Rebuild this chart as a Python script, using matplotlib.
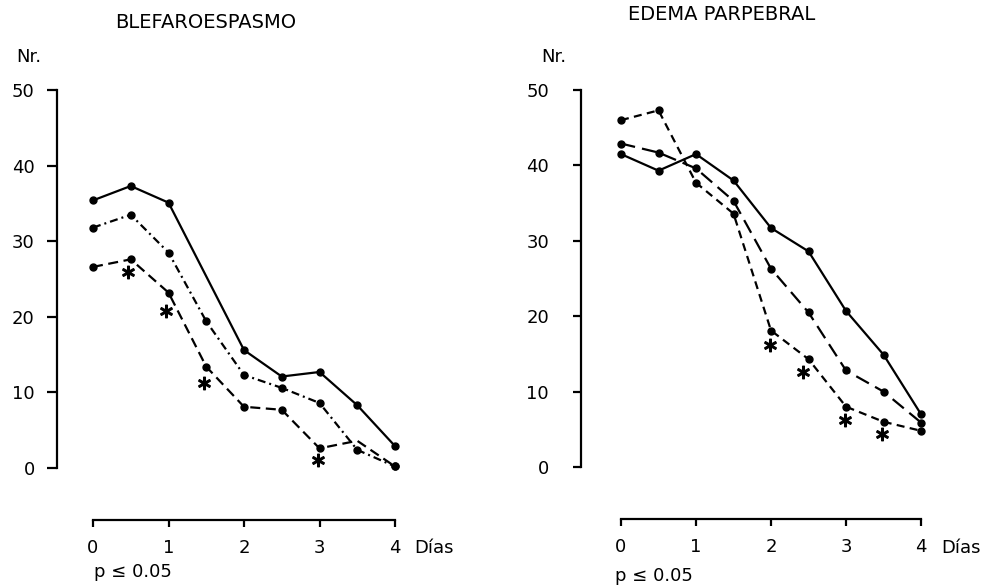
import matplotlib
matplotlib.use("Agg")
import matplotlib.pyplot as plt

# ---------------- data ----------------
days = [0, 0.5, 1, 1.5, 2, 2.5, 3, 3.5, 4]
day_ticks = [0, 1, 2, 3, 4]
y_ticks = [0, 10, 20, 30, 40, 50]

# BLEFAROESPASMO
bl_solid_x = [0, 0.5, 1, 2, 2.5, 3, 3.5, 4]
bl_solid = [35.4, 37.3, 35.1, 15.6, 12.1, 12.7, 8.3, 2.9]
bl_dashdot = [31.8, 33.5, 28.5, 19.4, 12.3, 10.6, 8.6, 2.4, 0.2]
bl_dashed = [26.6, 27.6, 23.2, 13.4, 8.1, 7.7, 2.6, 3.6, 0.2]
bl_star_x = [0.47, 0.97, 1.47, 2.98]
bl_star_y = [25.9, 20.8, 11.2, 1.0]

# EDEMA PARPEBRAL
ed_solid = [41.5, 39.3, 41.5, 38.0, 31.7, 28.6, 20.7, 14.9, 7.0]
ed_longdash = [42.9, 41.7, 39.6, 35.3, 26.3, 20.5, 12.8, 10.0, 5.9]
ed_shortdash = [46.0, 47.3, 37.7, 33.6, 18.1, 14.3, 8.0, 6.0, 4.8]
ed_star_x = [1.98, 2.43, 2.98, 3.48]
ed_star_y = [16.2, 12.6, 6.2, 4.4]

W, H = 991, 586
plt.rcParams['font.family'] = ['DejaVu Sans']
fig = plt.figure(figsize=(W / 100, H / 100), dpi=100)

TICK_FS = 13


def make_axes(x0px, x4px, y0px, y50px, spine_px, xaxis_px, right_px):
    pxx = (x4px - x0px) / 4.0
    pxy = (y0px - y50px) / 50.0
    top_px, bottom_px = 80, 540
    ax = fig.add_axes([spine_px / W, 1 - bottom_px / H,
                       (right_px - spine_px) / W, (bottom_px - top_px) / H])
    ax.set_xlim((spine_px - x0px) / pxx, (right_px - x0px) / pxx)
    ax.set_ylim((y0px - bottom_px) / pxy, (y0px - top_px) / pxy)
    ax.patch.set_visible(False)
    for s in ('top', 'right'):
        ax.spines[s].set_visible(False)
    ax.spines['left'].set_bounds(0, 50)
    ax.spines['bottom'].set_bounds(0, 4)
    ax.spines['bottom'].set_position(('data', -(xaxis_px - y0px) / pxy))
    for s in ('left', 'bottom'):
        ax.spines[s].set_linewidth(1.6)
    ax.set_xticks(day_ticks)
    ax.set_yticks(y_ticks)
    ax.tick_params(axis='x', direction='out', length=5, width=1.6,
                   pad=9, labelsize=TICK_FS)
    return ax


line_kw = dict(color='black', lw=1.6, marker='o', ms=5)
star_kw = dict(ls='none', marker='$\\ast$', ms=9, color='black')

# ---------------- left panel ----------------
ax1 = make_axes(93, 395, 468, 90, 57, 520, 420)
ax1.tick_params(axis='y', direction='out', length=7, width=1.6,
                pad=9, labelsize=TICK_FS)
ax1.plot(bl_solid_x, bl_solid, ls='-', **line_kw)
ax1.plot(days, bl_dashdot, ls=(0, (3.6, 1.8, 0.9, 1.8)), **line_kw)
ax1.plot(days, bl_dashed, ls=(0, (4.5, 2.5)),
         markevery=[0, 1, 2, 3, 4, 5, 6, 8], **line_kw)
ax1.plot(bl_star_x, bl_star_y, **star_kw)

# ---------------- right panel ----------------
ax2 = make_axes(621, 921, 467, 90, 581, 519, 940)
ax2.tick_params(axis='y', direction='out', length=6, width=1.6,
                pad=17, labelsize=TICK_FS)
ax2.plot(days, ed_solid, ls='-', **line_kw)
ax2.plot(days, ed_longdash, ls=(0, (6.5, 3.2)), **line_kw)
ax2.plot(days, ed_shortdash, ls=(0, (3.6, 2.4)), **line_kw)
ax2.plot(ed_star_x, ed_star_y, **star_kw)


def ptext(xpx, ypx, s, **kw):
    fig.text(xpx / W, 1 - ypx / H, s, **kw)


ptext(115, 23, 'BLEFAROESPASMO', fontsize=14, ha='left', va='center')
ptext(628, 15, 'EDEMA PARPEBRAL', fontsize=14, ha='left', va='center')
ptext(16, 57, 'Nr.', fontsize=13, ha='left', va='center')
ptext(541, 57, 'Nr.', fontsize=13, ha='left', va='center')
ptext(414, 548, 'Días', fontsize=TICK_FS, ha='left', va='center')
ptext(941, 548, 'Días', fontsize=TICK_FS, ha='left', va='center')
ptext(94, 572, 'p ≤ 0.05', fontsize=TICK_FS, ha='left', va='center')
ptext(615, 576, 'p ≤ 0.05', fontsize=TICK_FS, ha='left', va='center')

fig.savefig('out.png', dpi=100)
